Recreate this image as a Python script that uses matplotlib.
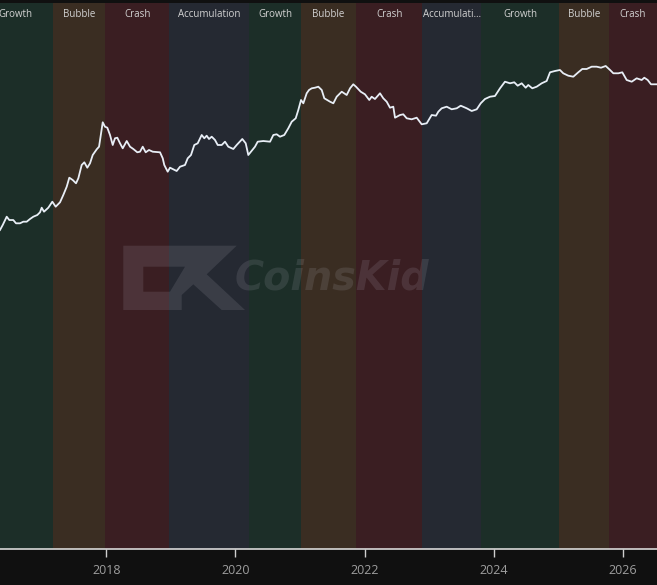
import matplotlib
matplotlib.use("Agg")
import matplotlib.pyplot as plt
from matplotlib.path import Path
from matplotlib.patches import PathPatch

# ---------------- data ----------------
phase_labels = ["Growth", "Bubble", "Crash", "Accumulation", "Growth", "Bubble",
                "Crash", "Accumulati\u2026", "Growth", "Bubble", "Crash"]
phase_kind = ["Growth", "Bubble", "Crash", "Accumulation", "Growth", "Bubble",
              "Crash", "Accumulation", "Growth", "Bubble", "Crash"]
phase_start = [2016.0, 2017.17, 2017.977, 2018.975, 2020.214, 2021.014,
               2021.870, 2022.895, 2023.813, 2025.012, 2025.784]
phase_end = [2017.17, 2017.977, 2018.975, 2020.214, 2021.014, 2021.870,
             2022.895, 2023.813, 2025.012, 2025.784, 2026.533]

years = [2016.351, 2016.393, 2016.455, 2016.495, 2016.557, 2016.599, 2016.661,
         2016.712, 2016.765, 2016.816, 2016.867, 2016.929, 2016.971, 2016.997,
         2017.033, 2017.100, 2017.162, 2017.214, 2017.281, 2017.332, 2017.385,
         2017.425, 2017.478, 2017.529, 2017.565, 2017.617, 2017.658, 2017.704,
         2017.746, 2017.788, 2017.850, 2017.886, 2017.917, 2017.943, 2017.978,
         2018.014, 2018.056, 2018.098, 2018.133, 2018.169, 2018.211, 2018.253,
         2018.315, 2018.366, 2018.417, 2018.479, 2018.521, 2018.563, 2018.609,
         2018.660, 2018.718, 2018.831, 2018.873, 2018.897, 2018.950, 2018.986,
         2019.037, 2019.089, 2019.141, 2019.218, 2019.260, 2019.311, 2019.362,
         2019.415, 2019.477, 2019.517, 2019.554, 2019.590, 2019.632, 2019.683,
         2019.725, 2019.787, 2019.838, 2019.889, 2019.967, 2020.019, 2020.106,
         2020.159, 2020.199, 2020.261, 2020.303, 2020.345, 2020.432, 2020.536,
         2020.587, 2020.639, 2020.690, 2020.757, 2020.819, 2020.872, 2020.934,
         2020.974, 2021.016, 2021.052, 2021.104, 2021.140, 2021.182, 2021.233,
         2021.284, 2021.337, 2021.377, 2021.466, 2021.517, 2021.569, 2021.647,
         2021.724, 2021.776, 2021.826, 2021.868, 2021.941, 2022.007, 2022.074,
         2022.111, 2022.162, 2022.240, 2022.291, 2022.344, 2022.395, 2022.446,
         2022.473, 2022.550, 2022.601, 2022.654, 2022.731, 2022.809, 2022.886,
         2022.964, 2023.041, 2023.108, 2023.144, 2023.196, 2023.274, 2023.351,
         2023.429, 2023.491, 2023.584, 2023.661, 2023.739, 2023.801, 2023.867,
         2023.945, 2024.022, 2024.100, 2024.177, 2024.255, 2024.321, 2024.374,
         2024.436, 2024.498, 2024.538, 2024.600, 2024.668, 2024.746, 2024.823,
         2024.875, 2024.952, 2025.029, 2025.080, 2025.158, 2025.236, 2025.313,
         2025.375, 2025.443, 2025.521, 2025.598, 2025.665, 2025.738, 2025.805,
         2025.856, 2025.934, 2025.995, 2026.063, 2026.141, 2026.218, 2026.296,
         2026.336, 2026.389, 2026.440, 2026.533]
price = [450, 535, 715, 637, 637, 568, 568,
         601, 601, 660, 715, 759, 834, 979,
         852, 979, 1207, 1014, 1182, 1525, 2037,
         2789, 2573, 2293, 2732, 4343, 4772, 3953,
         4608, 6156, 7511, 8225, 13130, 19270, 16520,
         15960, 12370, 8728, 11030, 11260, 9261, 7779,
         10030, 8225, 7590, 6764, 6908, 8225, 6764,
         7330, 6908, 6764, 5487, 4343, 3439, 3953,
         3738, 3523, 4093, 4343, 5487, 6156, 8728,
         9261, 12370, 11030, 12070, 10760, 11660, 10390,
         8728, 8728, 9795, 8225, 7590, 8728, 10760,
         9261, 6156, 7330, 8225, 9795, 10030, 9795,
         12370, 12680, 11660, 12370, 15630, 19670, 22150,
         29590, 41950, 37390, 53010, 59450, 63080, 64410,
         66710, 59450, 44520, 39520, 37390, 47060, 56030,
         49950, 63080, 72540, 66710, 56030, 51170, 41950,
         47060, 43430, 53010, 44520, 39520, 32070, 33210,
         22620, 24850, 25460, 22150, 21390, 22620, 17970,
         18610, 24850, 24260, 27890, 31400, 33210, 30330,
         31400, 34390, 31400, 28580, 30330, 37390, 43430,
         47060, 48220, 63080, 79420, 75130, 77790, 69080,
         75130, 64410, 70790, 63080, 66710, 75130, 81380,
         110200, 115400, 119500, 106500, 97930, 94560, 110200,
         123700, 123700, 134100, 134100, 129400, 137400, 119500,
         106500, 106500, 110200, 84290, 79420, 89430, 84290,
         91320, 84290, 72540, 72540]

tick_years = [2018, 2020, 2022, 2024, 2026]
tick_labels = ["2018", "2020", "2022", "2024", "2026"]

# ---------------- style ----------------
W, H = 657, 585
BG = "#101010"
band_colors = {"Growth": "#1c2e28", "Bubble": "#3a2d22",
               "Crash": "#3a1e22", "Accumulation": "#252932"}

fig = plt.figure(figsize=(W / 100, H / 100), dpi=100, facecolor=BG)
ax = fig.add_axes([0, 1 - 549 / H, 1, (549 - 3) / H])
ax.set_facecolor(BG)

for s, e, k, lab in zip(phase_start, phase_end, phase_kind, phase_labels):
    ax.axvspan(s, e, color=band_colors[k], lw=0, zorder=0)
    ax.text((s + e) / 2, 0.9785, lab, transform=ax.get_xaxis_transform(),
            ha="center", va="center", fontsize=7, color="#d2d2d2",
            family=["Open Sans", "DejaVu Sans"], zorder=3)

ax.plot(years, price, color="#e8eef6", lw=1.3, zorder=4)
ax.set_yscale("log")
ax.set_xlim(2016.351, 2026.533)
ax.set_ylim(0.0066, 1.237e6)

ax.set_yticks([])
ax.minorticks_off()
ax.set_xticks(tick_years)
ax.set_xticklabels(tick_labels)
ax.tick_params(axis="x", direction="out", length=6, width=1, color="#cfcfcf",
               labelcolor="#9e9e9e", labelsize=9, pad=5)
for lbl in ax.get_xticklabels():
    lbl.set_family(["Open Sans", "DejaVu Sans"])
for side in ["top", "left", "right"]:
    ax.spines[side].set_visible(False)
ax.spines["bottom"].set_color("#d8d8d8")
ax.spines["bottom"].set_linewidth(1.2)

# ---------------- watermark ----------------
def px(pts):
    return [(x / W, 1 - y / H) for x, y in pts]

outer = [(123.3, 245.7), (236.7, 245.7), (206.7, 274.3), (245.0, 310.0),
         (221.7, 310.0), (193.3, 284.3), (181.7, 295.0), (181.7, 310.0),
         (123.3, 310.0)]
hole = [(143.3, 266.7), (143.3, 291.7), (170.0, 291.7), (185.0, 266.7)]
verts = px(outer) + [px(outer)[0]] + px(hole) + [px(hole)[0]]
codes = ([Path.MOVETO] + [Path.LINETO] * (len(outer) - 1) + [Path.CLOSEPOLY] +
         [Path.MOVETO] + [Path.LINETO] * (len(hole) - 1) + [Path.CLOSEPOLY])
logo = PathPatch(Path(verts, codes), transform=fig.transFigure,
                 facecolor="#c8c8d4", edgecolor="none", alpha=0.13, zorder=2)
fig.patches.append(logo)

fig.text(235 / W, 1 - 278 / H, "CoinsKid", ha="left", va="center",
         fontsize=28.5, fontweight="bold", fontstyle="italic",
         color="#c8c8d4", alpha=0.13, family="DejaVu Sans")

fig.savefig("out.png", dpi=100, facecolor=BG)
